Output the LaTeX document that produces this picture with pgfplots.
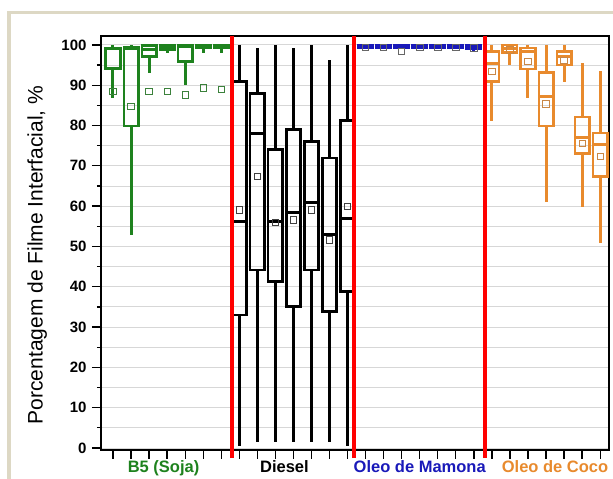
\documentclass[border=0pt]{standalone}
\usepackage{pgfplots}
\pgfplotsset{compat=1.18}
\usepgfplotslibrary{statistics}
\usepackage{fontspec}
\setmainfont{Liberation Sans}
\definecolor{cGreen}{RGB}{30,130,30}
\definecolor{cBlue}{RGB}{25,25,185}
\definecolor{cOrange}{RGB}{232,138,45}
\definecolor{cBeige}{RGB}{221,216,196}
\definecolor{cGrid}{RGB}{215,215,215}
% \bx{position}{lower whisker}{lower quartile}{median}{upper quartile}{upper whisker}{colour}
\newcommand{\bx}[7]{\addplot[draw=#7, line width=2.6pt, solid, line join=miter, mark=none,
  boxplot prepared={draw position=#1, lower whisker=#2, lower quartile=#3, median=#4,
  upper quartile=#5, upper whisker=#6, box extend=0.8, whisker extend=0, draw direction=y,
  every whisker/.style={draw=#7, line width=3pt, solid},
  every median/.style={draw=#7, line width=3pt, solid},
  every box/.style={draw=#7, line width=2.6pt, solid}}] coordinates {};}
\begin{document}
\begin{tikzpicture}[x=1pt,y=1pt]
\useasboundingbox (-101,-29) rectangle (512,450);
\fill[cBeige] (-94,436) rectangle (512,439);
\fill[cBeige] (-94,-29) rectangle (-90,439);
\begin{axis}[
  at={(0,0)}, anchor=south west, scale only axis,
  width=508pt, height=414pt,
  xmin=0.335, xmax=28.49, ymin=-0.5, ymax=102.2,
  clip=false,
  boxplot/draw direction=y,
  axis line style={line width=1.5pt},
  xtick={1,...,28}, xticklabels={},
  ytick={0,10,...,100}, minor ytick={5,15,...,95},
  tick pos=left, tick align=outside,
  major tick length=9pt, minor tick length=4pt,
  every tick/.style={black, line width=1.3pt},
  ymajorgrids, yminorgrids,
  grid style={cGrid, line width=0.8pt},
  minor grid style={cGrid, line width=0.8pt},
  /pgf/number format/assume math mode=true,
  yticklabel style={font=\bfseries\fontsize{15}{15}\selectfont, xshift=-2pt},
  ylabel={Porcentagem de Filme Interfacial, \%},
  every axis y label/.style={at={(ticklabel cs:0.5)}, rotate=90, anchor=center, yshift=21pt,
     xshift=-12pt, font=\fontsize{21}{21}\selectfont},
]
% B5 (Soja)
\bx{1}{86.9}{94.2}{99.0}{99.2}{100}{cGreen}
\bx{2}{52.9}{79.9}{99.0}{99.4}{100}{cGreen}
\bx{3}{93.0}{97.1}{98.8}{99.8}{100}{cGreen}
\bx{4}{97.9}{98.9}{99.5}{100}{100}{cGreen}
\bx{5}{90.1}{95.9}{99.5}{100}{100}{cGreen}
\bx{6}{98.1}{99.2}{99.6}{100}{100}{cGreen}
\bx{7}{98.1}{99.2}{99.6}{100}{100}{cGreen}
% Diesel
\bx{8}{0.5}{33.0}{56.2}{90.9}{100}{black}
\bx{9}{1.5}{44.2}{78.1}{88.0}{99.2}{black}
\bx{10}{1.5}{41.3}{56.2}{74.0}{100}{black}
\bx{11}{1.5}{35.1}{58.3}{79.0}{99.2}{black}
\bx{12}{1.5}{44.2}{61.0}{76.0}{100}{black}
\bx{13}{1.5}{33.9}{52.9}{71.9}{96.3}{black}
\bx{14}{0.5}{38.8}{57.0}{81.3}{100}{black}
% Oleo de Mamona
\bx{15}{99.0}{99.2}{99.7}{100}{100}{cBlue}
\bx{16}{99.0}{99.2}{99.7}{100}{100}{cBlue}
\bx{17}{99.0}{99.2}{99.7}{100}{100}{cBlue}
\bx{18}{99.0}{99.2}{99.7}{100}{100}{cBlue}
\bx{19}{99.0}{99.2}{99.7}{100}{100}{cBlue}
\bx{20}{99.0}{99.2}{99.7}{100}{100}{cBlue}
\bx{21}{98.2}{99.0}{99.6}{100}{100}{cBlue}
% Oleo de Coco
\bx{22}{81.0}{90.9}{95.5}{98.3}{100}{cOrange}
\bx{23}{95.0}{98.1}{99.0}{100}{100}{cOrange}
\bx{24}{86.8}{94.0}{98.3}{99.2}{100}{cOrange}
\bx{25}{60.9}{79.9}{87.3}{93.1}{100}{cOrange}
\bx{26}{90.9}{95.0}{97.1}{98.3}{100}{cOrange}
\bx{27}{59.9}{73.1}{77.1}{82.1}{95.5}{cOrange}
\bx{28}{50.8}{67.3}{75.2}{78.1}{93.4}{cOrange}
% means
\addplot[only marks, mark=square, mark size=3.2pt, mark options={draw=cGreen!70!gray, line width=0.8pt}]
  coordinates {(1,88.4) (2,84.7) (3,88.4) (4,88.4) (5,87.6) (6,89.3) (7,89.0)};
\addplot[only marks, mark=square, mark size=3.2pt, mark options={draw=black!75, line width=0.8pt}]
  coordinates {(8,59.1) (9,67.3) (10,56.0) (11,56.6) (12,59.1) (13,51.6) (14,60.0)};
\addplot[only marks, mark=square, mark size=3.2pt, mark options={draw=black!60, line width=0.8pt}]
  coordinates {(15,99.3) (16,99.3) (17,98.4) (18,99.4) (19,99.3) (20,99.3) (21,99.2)};
\addplot[only marks, mark=square, mark size=3.2pt, mark options={draw=cOrange!70!gray, line width=0.8pt}]
  coordinates {(22,93.4) (23,98.8) (24,95.9) (25,85.4) (26,96.1) (27,75.6) (28,72.3)};
% separators
\addplot[red, line width=3.8pt, mark=none] coordinates {(7.6,-2.5) (7.6,102.2)};
\addplot[red, line width=3.8pt, mark=none] coordinates {(14.35,-2.5) (14.35,102.2)};
\addplot[red, line width=3.8pt, mark=none] coordinates {(21.6,-2.5) (21.6,102.2)};
% group labels
\node[anchor=base, yshift=-22pt, text=cGreen, font=\bfseries\fontsize{16.5}{16.5}\selectfont] at (axis cs:3.8,-0.5) {B5 (Soja)};
\node[anchor=base, yshift=-22pt, text=black, font=\bfseries\fontsize{16.5}{16.5}\selectfont] at (axis cs:10.5,-0.5) {Diesel};
\node[anchor=base, yshift=-22pt, text=cBlue, font=\bfseries\fontsize{16.5}{16.5}\selectfont] at (axis cs:18.0,-0.5) {Oleo de Mamona};
\node[anchor=base, yshift=-22pt, text=cOrange, font=\bfseries\fontsize{16.5}{16.5}\selectfont] at (axis cs:25.5,-0.5) {Oleo de Coco};
\end{axis}
\end{tikzpicture}
\end{document}
